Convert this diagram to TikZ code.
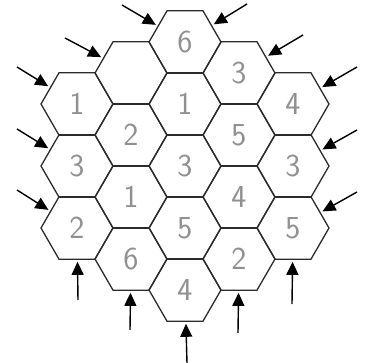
\documentclass[tikz,border=0pt]{standalone}
\usetikzlibrary{arrows.meta, shapes.geometric}
\definecolor{cink}{HTML}{2B2B2B}
\definecolor{cpencil}{HTML}{909090}
\tikzset{
  every picture/.style={line width=1.3pt},
  hexcell/.style={regular polygon, regular polygon sides=6, draw=cink, minimum size=72pt, inner sep=0pt, font=\sffamily\fontsize{32}{34}\selectfont, text=cpencil},
  arrow/.style={-{Triangle[length=13pt, width=12pt]}, draw=black, line width=1.4pt, shorten >=2pt},
}

\begin{document}
\begin{tikzpicture}[x=1pt, y=-1pt]
  \useasboundingbox (0,0) rectangle (365,363);
  % the board, column by column
  \foreach \c/\xx/\yy/\digits in {1/77/104/{1,3,2}, 2/131/73/{{},2,1,6}, 3/185/42/{6,1,3,5,4}, 4/239/73/{3,5,4,2}, 5/293/104/{4,3,5}}
    \foreach \d [count=\r] in \digits
      \node[hexcell] (h\c\r) at (\xx, {\yy+62*(\r-1)}) {\d};
  % arrows into the lines
  \foreach \tx/\ty/\cell [count=\k] in {17/67/h11, 17/129/h12, 17/190/h13, 65/38/h21, 122/5/h31,
      247/4/h31, 303/35/h41, 357/67/h51, 357/130/h52, 357/192/h53,
      78/300/h13, 130/330/h24, 187/363/h35, 238/333/h44, 292/304/h53} {
    \coordinate (tail\k) at (\tx,\ty);
    \draw[arrow] (tail\k) -- (\cell);
  }
\end{tikzpicture}
\end{document}
